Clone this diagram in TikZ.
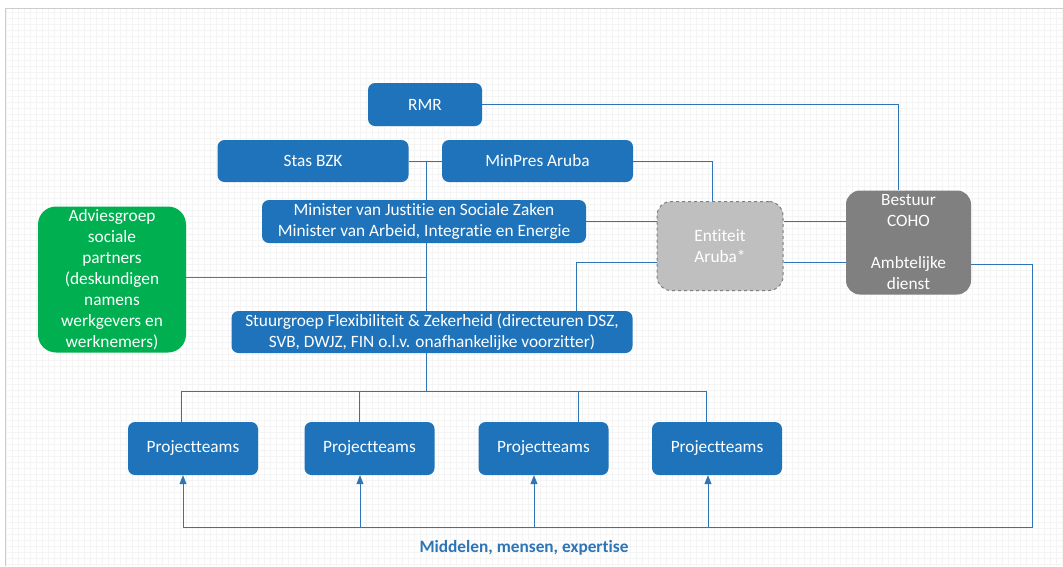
\documentclass[tikz,border=0pt]{standalone}
\usepackage{fontspec}
\setmainfont{Carlito}[Ligatures=NoCommon]
\usetikzlibrary{arrows.meta}
\definecolor{boxblue}{HTML}{1F73BA}
\definecolor{lineblue}{HTML}{2E75B6}
\definecolor{advgreen}{HTML}{00B050}
\definecolor{entgrey}{HTML}{BFBFBF}
\definecolor{entedge}{HTML}{7F7F7F}
\definecolor{bestgrey}{HTML}{808080}
\pgfdeclarelayer{gridlayer}
\pgfdeclarelayer{bg}
\pgfsetlayers{gridlayer,bg,main}
\begin{document}
\begin{tikzpicture}[x=1pt,y=-1pt,
  txt/.style={text=white, font=\fontsize{17.3}{21}\selectfont, align=center, inner sep=0pt},
  box/.style={txt, fill=boxblue, rounded corners=7pt},
  ptbox/.style={box, minimum width=130pt, minimum height=53pt},
  conn/.style={draw=lineblue, line width=0.8pt},
  arr/.style={conn, -{Triangle[length=9pt,width=7pt]}}]
\useasboundingbox (0,0) rectangle (1063,566);

% nodes
\node[box, minimum width=114pt, minimum height=43pt] (rmr) at (425,104.5) {RMR};
\node[box, minimum width=191pt, minimum height=42pt] (stas) at (313,161) {Stas BZK};
\node[box, minimum width=191pt, minimum height=42pt] (minpres) at (537.5,161) {MinPres Aruba};
\node[box, minimum width=324pt, minimum height=43pt] (minister) at (424,221.5)
  {Minister van Justitie en Sociale Zaken\\Minister van Arbeid, Integratie en Energie};
\node[txt, fill=advgreen, rounded corners=18pt, minimum width=148pt, minimum height=146pt] (advies) at (112,279.5)
  {Adviesgroep\\sociale\\partners\\(deskundigen\\namens\\werkgevers en\\werknemers)};
\node[box, minimum width=401pt, minimum height=42pt] (stuur) at (432,332)
  {Stuurgroep Flexibiliteit \& Zekerheid (directeuren DSZ,\\SVB, DWJZ, FIN o.l.v. onafhankelijke voorzitter)};
\node[txt, fill=entgrey, draw=entedge, dashed, line width=1pt, rounded corners=14pt,
  minimum width=126pt, minimum height=89pt] (ent) at (720,246) {Entiteit\\Aruba*};
\node[txt, fill=bestgrey, rounded corners=14pt, minimum width=125pt, minimum height=104pt] (best) at (908.5,242.5)
  {Bestuur\\COHO\\\strut\\Ambtelijke\\dienst};
\node[ptbox] (p1) at (193,448.5) {Projectteams};
\node[ptbox] (p2) at (369.5,448.5) {Projectteams};
\node[ptbox] (p3) at (543.5,448.5) {Projectteams};
\node[ptbox] (p4) at (717,448.5) {Projectteams};
\node[font=\fontsize{17.3}{20}\selectfont\bfseries, text=lineblue, inner sep=0pt] (res) at (524,548)
  {Middelen, mensen, expertise};

% grid background
\begin{pgfonlayer}{gridlayer}
  \fill[white] (0,0) rectangle (1063,566);
  \draw[gray!9, line width=0.4pt, step=6pt] (5,8) grid (1063,566);
  \draw[gray!40, line width=1pt] (5,566) -- (5,8) -- (1063,8);
\end{pgfonlayer}

% connectors
\begin{pgfonlayer}{bg}
  \coordinate (j1) at (426,161);
  \coordinate (bus) at (426,391);
  \coordinate (busl) at (181,391);
  \coordinate (busr) at (706,391);
  \coordinate (rc) at (1032,264);
  \coordinate (bc) at (1032,527);
  \coordinate (bot) at (183,527);

  \draw[conn] (rmr.east) -| ([xshift=-10.5pt]best.north);
  \draw[conn] (stas.east) -- (minpres.west);
  \draw[conn] (j1) -- (bus);
  \draw[draw=advgreen, line width=0.8pt] ([yshift=2.5pt]advies.east) -- ([yshift=2.5pt]advies.east -| j1);
  \draw[conn] (minpres.east) -| ([xshift=-8pt]ent.north);
  \draw[conn] (minister.east) -- (minister.east -| ent.west);
  \draw[conn] (minister.east -| ent.east) -- (minister.east -| best.west);
  \draw[conn] ([yshift=-16pt]ent.east) -- ([yshift=-16pt]ent.east -| best.west);
  \draw[conn] ([xshift=144pt]stuur.north) |- ([yshift=-16pt]ent.west);
  \draw[conn] (busl) -- (busr);
  \draw[conn] (busl) -- (busl |- p1.north);
  \draw[conn] ([xshift=-10.5pt]p2.north |- bus) -- ([xshift=-10.5pt]p2.north);
  \draw[conn] ([xshift=34.5pt]p3.north |- bus) -- ([xshift=34.5pt]p3.north);
  \draw[conn] (busr) -- (busr |- p4.north);
  \draw[conn] (best.east |- rc) -- (rc) -- (bc) -- (bot);
  \draw[arr] (bot) -- (bot |- p1.south);
  \draw[arr] ([xshift=-9.5pt]p2.south |- bot) -- ([xshift=-9.5pt]p2.south);
  \draw[arr] ([xshift=-9.5pt]p3.south |- bot) -- ([xshift=-9.5pt]p3.south);
  \draw[arr] ([xshift=-9pt]p4.south |- bot) -- ([xshift=-9pt]p4.south);
\end{pgfonlayer}
\end{tikzpicture}
\end{document}
